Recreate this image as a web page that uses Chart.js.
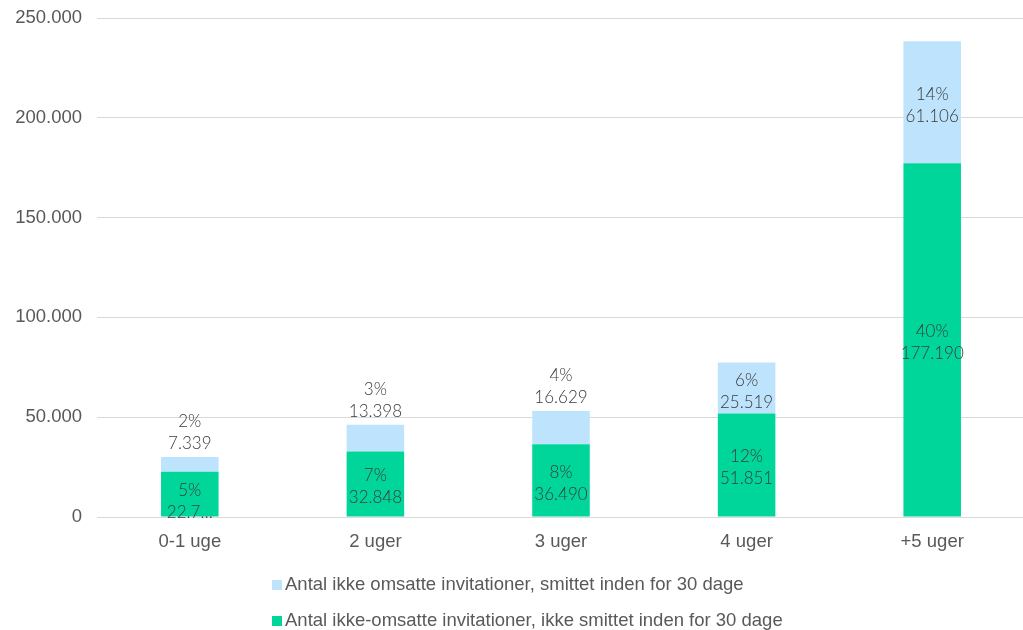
<!DOCTYPE html>
<html>
<head>
<meta charset="utf-8">
<script src="https://cdn.jsdelivr.net/npm/chart.js@4"></script>
<style>
  html, body { margin: 0; padding: 0; background: #ffffff; overflow: hidden; }
  #wrap { width: 1023px; height: 630px; position: relative; overflow: hidden; }
  #c { position: absolute; left: 0; top: 0; }
</style>
</head>
<body>
<div id="wrap"><canvas id="c" width="1025" height="630"></canvas></div>
<script>
const categories = ['0-1 uge', '2 uger', '3 uger', '4 uger', '+5 uger'];
const smittetValues = [7339, 13398, 16629, 25519, 61106];
const ikkeSmittetValues = [22721, 32848, 36490, 51851, 177190];
const smittetPct = [2, 3, 4, 6, 14];
const ikkeSmittetPct = [5, 7, 8, 12, 40];
const seriesNames = [
  'Antal ikke-omsatte invitationer, ikke smittet inden for 30 dage',
  'Antal ikke omsatte invitationer, smittet inden for 30 dage'
];
const yTickValues = [0, 50000, 100000, 150000, 200000, 250000];

const GREEN = '#00D69A';
const BLUE = '#BEE3FC';
const AXIS_TEXT = '#595959';
const LABEL_TEXT = '#3a3a3a';
const AXIS_FAMILY = '"Liberation Sans", Arial, sans-serif';
const AXIS_SIZE = 18.5;
const AXIS_FONT = AXIS_SIZE + 'px ' + AXIS_FAMILY;
const LABEL_FONT = '300 17px Lato, "Open Sans", sans-serif';

function fmt(n) {
  return String(Math.round(n)).replace(/\B(?=(\d{3})+(?!\d))/g, '.');
}

const pctArrays = [ikkeSmittetPct, smittetPct];

const labelPlugin = {
  id: 'stackLabels',
  afterDatasetsDraw(chart) {
    const ctx = chart.ctx;
    ctx.save();
    ctx.font = LABEL_FONT;
    ctx.fillStyle = LABEL_TEXT;
    ctx.textAlign = 'center';
    ctx.textBaseline = 'middle';
    const lineGap = 22;
    chart.data.datasets.forEach((ds, di) => {
      const meta = chart.getDatasetMeta(di);
      const isTop = di === chart.data.datasets.length - 1;
      meta.data.forEach((el, i) => {
        const top = Math.min(el.y, el.base);
        const bottom = Math.max(el.y, el.base);
        const h = bottom - top;
        let pctText = pctArrays[di][i] + '%';
        let valText = fmt(ds.data[i]);
        let cy;
        if (h < 50) {
          if (isTop) {
            cy = top - 8 - lineGap / 2 - 5;
          } else {
            cy = (top + bottom) / 2 + 7;
            valText = valText.slice(0, 4) + '…';
          }
        } else {
          cy = (top + bottom) / 2 + 3;
        }
        ctx.fillText(pctText, el.x, cy - lineGap / 2);
        ctx.fillText(valText, el.x, cy + lineGap / 2);
      });
    });
    ctx.restore();
  }
};

const legendPlugin = {
  id: 'customLegend',
  afterDraw(chart) {
    const ctx = chart.ctx;
    ctx.save();
    ctx.font = AXIS_FONT;
    ctx.textBaseline = 'middle';
    ctx.textAlign = 'left';
    const order = [1, 0];
    const rowsY = [585, 621];
    order.forEach((di, r) => {
      const ds = chart.data.datasets[di];
      ctx.fillStyle = ds.backgroundColor;
      ctx.fillRect(272, rowsY[r] - 5, 10, 10);
      ctx.fillStyle = AXIS_TEXT;
      ctx.fillText(ds.label, 285, rowsY[r]);
    });
    ctx.restore();
  }
};

new Chart(document.getElementById('c'), {
  type: 'bar',
  data: {
    labels: categories,
    datasets: [
      { label: seriesNames[0], data: ikkeSmittetValues, backgroundColor: GREEN, stack: 's',
        barPercentage: 0.31, categoryPercentage: 1.0 },
      { label: seriesNames[1], data: smittetValues, backgroundColor: BLUE, stack: 's',
        barPercentage: 0.31, categoryPercentage: 1.0 }
    ]
  },
  options: {
    responsive: false,
    animation: false,
    layout: { padding: { top: 18, right: 0, left: 0, bottom: 0 } },
    plugins: { legend: { display: false }, tooltip: { enabled: false } },
    scales: {
      x: {
        stacked: true,
        grid: { display: false, drawTicks: false },
        border: { color: '#D9D9D9', width: 1 },
        ticks: { color: AXIS_TEXT, font: { family: AXIS_FAMILY, size: AXIS_SIZE }, padding: 14 },
        afterFit(scale) { scale.height = 113; scale.paddingTop = 0; }
      },
      y: {
        stacked: true,
        min: 0,
        max: 250000,
        afterBuildTicks(scale) { scale.ticks = yTickValues.map(v => ({ value: v })); },
        grid: { color: '#D9D9D9', drawTicks: false },
        border: { display: false },
        ticks: {
          color: AXIS_TEXT,
          font: { family: AXIS_FAMILY, size: AXIS_SIZE },
          padding: 15,
          callback: (v) => fmt(v)
        },
        afterFit(scale) { scale.width = 97; scale.paddingTop = 0; scale.paddingBottom = 0; }
      }
    }
  },
  plugins: [labelPlugin, legendPlugin]
});
</script>
</body>
</html>
